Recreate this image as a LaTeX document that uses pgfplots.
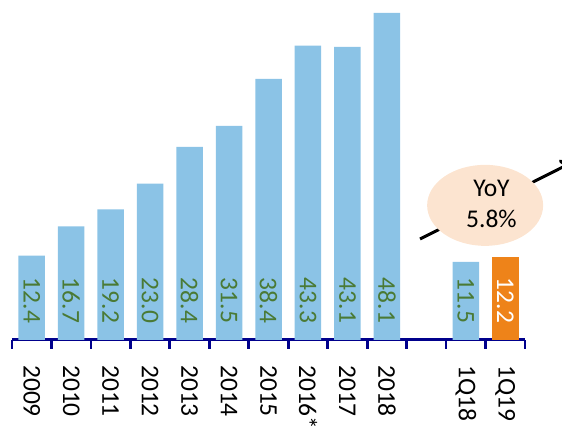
\documentclass[border=0pt]{standalone}
\usepackage{graphicx}
\usepackage{pgfplots}
\pgfplotsset{compat=1.18}
\usetikzlibrary{arrows.meta}
\usepackage{fontspec}
\setmainfont{Carlito}
\definecolor{barblue}{HTML}{8BC3E6}
\definecolor{barorange}{HTML}{EE8319}
\definecolor{labgreen}{HTML}{4A7A35}
\definecolor{axisnavy}{HTML}{00008C}
\definecolor{peach}{HTML}{FCE4D0}
\begin{document}
\begin{tikzpicture}
\useasboundingbox (0,0) rectangle (562pt,433pt);
\clip (0,0) rectangle (562pt,433pt);
\begin{axis}[
  at={(12pt,93pt)}, anchor=south west,
  scale only axis, width=513pt, height=340pt,
  xmin=-0.5, xmax=12.5, ymin=0, ymax=50,
  clip=false,
  separate axis lines,
  axis x line*=bottom, axis y line=none,
  axis line style={draw=axisnavy, line width=3pt},
  x axis line style={draw=axisnavy, line width=3pt},
  xtick={0,1,2,3,4,5,6,7,8,9,11,12},
  xticklabels={2009,2010,2011,2012,2013,2014,2015,2016*,2017,2018,1Q18,1Q19},
  major tick length=0pt,
  minor xtick={-0.5,0.5,1.5,2.5,3.5,4.5,5.5,6.5,7.5,8.5,9.5,10.5,11.5,12.5},
  minor tick length=9pt,
  tick align=outside,
  minor tick style={draw=axisnavy, line width=2.8pt},
  xticklabel shift=25pt,
  xticklabel style={rotate=-90, anchor=west, inner sep=0pt, font=\fontsize{25.5}{30}\selectfont},
]
\addplot[ybar, bar width=26.5pt, bar shift=0pt, fill=barblue, draw=none]
  coordinates {(0,12.4)(1,16.7)(2,19.2)(3,23.0)(4,28.4)(5,31.5)(6,38.4)(7,43.3)(8,43.1)(9,48.1)(11,11.5)};
\addplot[ybar, bar width=26.5pt, bar shift=0pt, fill=barorange, draw=none]
  coordinates {(12,12.2)};
\addplot[draw=none, mark=none, point meta=explicit symbolic,
  nodes near coords={\rotatebox{-90}{\pgfplotspointmeta}},
  every node near coord/.style={inner sep=0pt, outer sep=0pt, text=labgreen, font=\fontsize{25.5}{30}\selectfont}]
  coordinates {(0,2.5)[12.4] (1,2.5)[16.7] (2,2.5)[19.2] (3,2.5)[23.0] (4,2.5)[28.4] (5,2.5)[31.5] (6,2.5)[38.4] (7,2.5)[43.3] (8,2.5)[43.1] (9,2.5)[48.1] (11,2.5)[11.5]};
\addplot[draw=none, mark=none, point meta=explicit symbolic,
  nodes near coords={\rotatebox{-90}{\pgfplotspointmeta}},
  every node near coord/.style={inner sep=0pt, outer sep=0pt, text=white, font=\fontsize{25.5}{30}\selectfont}]
  coordinates {(12,2.5)[12.2]};
\draw[line width=3pt, -{To[length=9pt,width=16pt]}] (axis cs:9.84,14.85) -- (axis cs:13.64,25.97);
\fill[peach] (axis cs:11.49,19.8) ellipse [x radius=58pt, y radius=40.5pt];
\node[align=center, inner sep=0pt, font=\fontsize{25.5}{31}\selectfont] at (axis cs:11.65,20.0) {YoY\\5.8\%};
\end{axis}
\end{tikzpicture}
\end{document}
